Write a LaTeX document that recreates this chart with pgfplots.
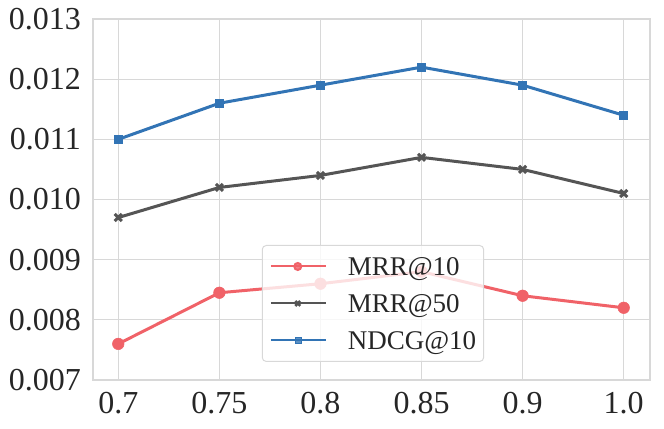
\documentclass[border=0pt]{standalone}
\usepackage{pgfplots}
\pgfplotsset{compat=1.18}
\usepackage{fontspec}
\setmainfont{Liberation Serif}
\definecolor{cred}{RGB}{240,98,104}
\definecolor{cgray}{RGB}{85,85,85}
\definecolor{cblue}{RGB}{50,116,181}
\definecolor{cgrid}{RGB}{216,216,216}
\definecolor{ctext}{RGB}{38,38,38}
\begin{document}
\begin{tikzpicture}
\begin{axis}[
  scale only axis,
  width=557pt, height=361pt,
  xmin=-0.25, xmax=5.26,
  ymin=0.007, ymax=0.013,
  xtick={0,1,2,3,4,5},
  xticklabels={0.7,0.75,0.8,0.85,0.9,1.0},
  ytick={0.007,0.008,0.009,0.010,0.011,0.012,0.013},
  yticklabel style={/pgf/number format/fixed, /pgf/number format/fixed zerofill, /pgf/number format/precision=3, xshift=-12pt},
  /pgf/number format/assume math mode=true,
  scaled y ticks=false,
  tick style={draw=none},
  grid=major,
  major grid style={draw=cgrid, line width=1.2pt},
  axis line style={draw=cgrid, line width=1.2pt},
  tick label style={font=\fontsize{32}{36}\selectfont, text=ctext, inner sep=0pt},
  xticklabel style={yshift=-12pt},
  legend style={at={(0.303,0.374)}, anchor=north west,
    font=\fontsize{27}{30}\selectfont, text=ctext,
    draw=cgrid, line width=1pt, rounded corners=4pt,
    fill=white, fill opacity=0.8, draw opacity=1, text opacity=1,
    row sep=11pt, inner xsep=7.5pt, inner ysep=8pt,
    nodes={inner sep=0pt, text height=22pt, text depth=4pt}},
  legend cell align=left,
  legend image code/.code={\draw[mark repeat=2,mark phase=2] plot coordinates {(0pt,0pt) (27pt,0pt) (55pt,0pt)}; \path (76pt,0pt);},
]
\addlegendimage{cred, line width=2pt, mark=*, mark size=3.5pt, mark options={solid}}
\addlegendentry{MRR@10}
\addlegendimage{cgray, line width=2pt, mark=x, mark size=3.5pt, mark options={line width=2.5pt}}
\addlegendentry{MRR@50}
\addlegendimage{cblue, line width=2pt, mark=square*, mark size=3pt, mark options={line width=0.5pt}}
\addlegendentry{NDCG@10}

\addplot[forget plot, cred, line width=3pt, mark=*, mark size=5.8pt, mark options={line width=0.5pt}] coordinates {
 (0,0.0076) (1,0.00845) (2,0.0086) (3,0.0088) (4,0.0084) (5,0.0082)};
\addplot[forget plot, cgray, line width=3pt, mark=x, mark size=5pt, mark options={line width=3pt}] coordinates {
 (0,0.0097) (1,0.0102) (2,0.0104) (3,0.0107) (4,0.0105) (5,0.0101)};
\addplot[forget plot, cblue, line width=3pt, mark=square*, mark size=4pt, mark options={line width=0.5pt}] coordinates {
 (0,0.0110) (1,0.0116) (2,0.0119) (3,0.0122) (4,0.0119) (5,0.0114)};
\end{axis}
\pgfresetboundingbox
\path (current axis.south west) ++(-93pt,-49pt) coordinate (bl);
\path (current axis.north east) ++(14pt,19pt) coordinate (tr);
\path (bl) rectangle (tr);
\end{tikzpicture}
\end{document}
